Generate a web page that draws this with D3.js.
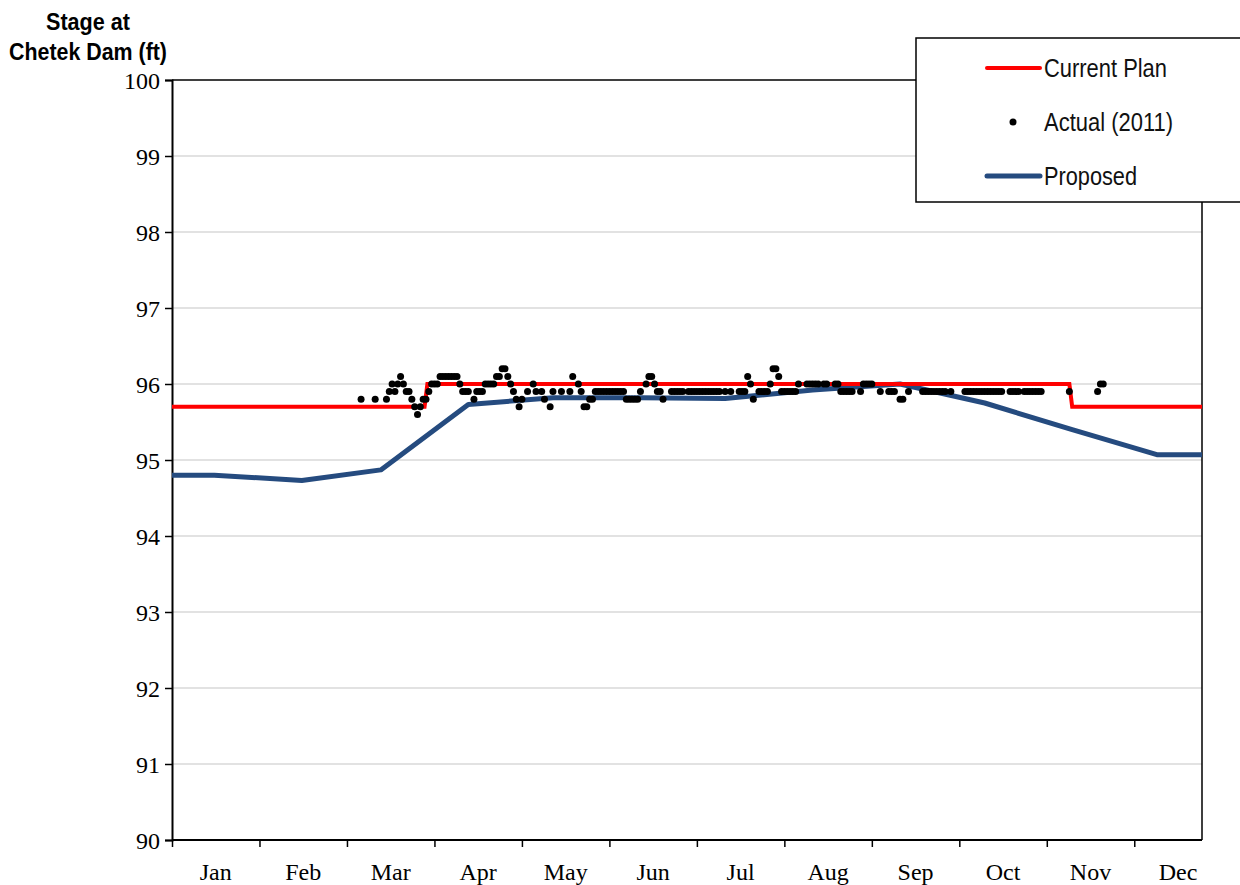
<!DOCTYPE html>
<html>
<head>
<meta charset="utf-8">
<script src="https://cdn.jsdelivr.net/npm/d3@7"></script>
<style>
  body { margin:0; background:#fff; }
  .narrow { font-family:"Liberation Sans Narrow","Arial Narrow","Liberation Sans",Arial,sans-serif; }
  .serif { font-family:"Liberation Serif","Times New Roman",serif; }
</style>
</head>
<body>
<div id="graphique"></div>
<script>
// stage at Chetek Dam, day of year on x
const months=["Jan","Feb","Mar","Apr","May","Jun","Jul","Aug","Sep","Oct","Nov","Dec"];
const yTicks=[90,91,92,93,94,95,96,97,98,99,100];

const planDay=[0,89.5,90.5,318,319,365];
const planStage=[95.7,95.7,96.0,96.0,95.7,95.7];

const proposedDay=[0,15,46,74,105,135,166,196,227,258,288,319,349,365];
const proposedStage=[94.8,94.8,94.73,94.87,95.73,95.82,95.82,95.81,95.92,96.0,95.75,95.4,95.07,95.07];

const actualDay=[67,72,76,77,78,79,80,81,82,83,84,85,86,87,88,89,90,91,92,93,94,
  95,96,97,98,99,100,101,102,103,104,105,107,108,109,110,111,112,113,114,115,116,117,118,119,120,
  121,122,123,124,126,128,129,131,132,134,135,138,141,142,144,145,146,147,148,149,
  150,151,152,153,154,155,156,157,158,159,160,161,162,163,164,165,166,168,169,170,171,172,173,174,
  177,178,179,180,181,183,184,185,186,187,188,189,190,191,192,193,194,196,198,201,202,203,204,205,206,
  208,209,210,211,212,213,214,215,216,217,218,219,220,221,222,225,226,227,228,229,231,232,235,236,
  237,238,239,240,241,244,245,246,247,248,251,254,255,256,258,259,261,
  266,267,268,269,270,271,272,273,274,276,281,282,283,284,285,286,287,288,289,290,291,292,293,294,
  297,298,299,300,302,303,304,305,306,307,308,318,328,329,330];
const actualStage=[95.8,95.8,95.8,95.9,96.0,95.9,96.0,96.1,96.0,95.9,95.9,95.8,95.7,95.6,95.7,95.8,95.8,95.9,96.0,96.0,96.0,
  96.1,96.1,96.1,96.1,96.1,96.1,96.1,96.0,95.9,95.9,95.9,95.8,95.9,95.9,95.9,96.0,96.0,96.0,96.0,96.1,96.1,96.2,96.2,96.1,96.0,
  95.9,95.8,95.7,95.8,95.9,96.0,95.9,95.9,95.8,95.7,95.9,95.9,95.9,96.1,96.0,95.9,95.7,95.7,95.8,95.8,
  95.9,95.9,95.9,95.9,95.9,95.9,95.9,95.9,95.9,95.9,95.9,95.8,95.8,95.8,95.8,95.8,95.9,96.0,96.1,96.1,96.0,95.9,95.9,95.8,
  95.9,95.9,95.9,95.9,95.9,95.9,95.9,95.9,95.9,95.9,95.9,95.9,95.9,95.9,95.9,95.9,95.9,95.9,95.9,95.9,95.9,95.9,96.1,96.0,95.8,
  95.9,95.9,95.9,95.9,96.0,96.2,96.2,96.1,95.9,95.9,95.9,95.9,95.9,95.9,96.0,96.0,96.0,96.0,96.0,96.0,96.0,96.0,96.0,96.0,
  95.9,95.9,95.9,95.9,95.9,95.9,96.0,96.0,96.0,96.0,95.9,95.9,95.9,95.9,95.8,95.8,95.9,
  95.9,95.9,95.9,95.9,95.9,95.9,95.9,95.9,95.9,95.9,95.9,95.9,95.9,95.9,95.9,95.9,95.9,95.9,95.9,95.9,95.9,95.9,95.9,95.9,
  95.9,95.9,95.9,95.9,95.9,95.9,95.9,95.9,95.9,95.9,95.9,95.9,95.9,96.0,96.0];

const width=1240, height=885;
const mLeft=172, mRight=1202, mTop=80, mBottom=840;

const svg=d3.select("#graphique").append("svg")
    .attr("width",width).attr("height",height);

const x=d3.scaleLinear().domain([0,365]).range([mLeft,mRight]);
const y=d3.scaleLinear().domain([90,100]).range([mBottom,mTop]);

// gridlines
svg.append("g").selectAll("line")
    .data(yTicks.slice(1,-1))
    .enter().append("line")
    .attr("x1",mLeft).attr("x2",mRight)
    .attr("y1",d=>y(d)).attr("y2",d=>y(d))
    .attr("stroke","#d9d9d9").attr("stroke-width",1.5);

// plot border (top & right)
svg.append("path")
    .attr("d","M"+mLeft+","+mTop+"H"+mRight+"V"+mBottom)
    .attr("fill","none").attr("stroke","black").attr("stroke-width",1.5);

// axes
const y_axis=d3.axisLeft(y).tickValues(yTicks).tickSize(7).tickPadding(5).tickFormat(d3.format("d"));
const gy=svg.append("g").attr("transform","translate("+mLeft+",0)").call(y_axis);
gy.select(".domain").attr("stroke-width",2);
gy.selectAll(".tick line").attr("stroke-width",1.5);
gy.selectAll("text").attr("class","serif").attr("font-size",24).attr("fill","black").attr("dy","0.35em");

const x_axis=d3.axisBottom(x).tickValues(d3.range(12).map(i=>i*31)).tickSize(7).tickFormat("");
const gx=svg.append("g").attr("transform","translate(0,"+mBottom+")").call(x_axis);
gx.select(".domain").attr("stroke-width",2).attr("d","M"+mLeft+",0H"+mRight);
gx.selectAll(".tick line").attr("stroke-width",1.5);

svg.append("g").selectAll("text")
    .data(months)
    .enter().append("text")
    .attr("class","serif")
    .attr("x",(d,i)=>x(i*31+15.5)).attr("y",880)
    .attr("text-anchor","middle").attr("font-size",24)
    .text(d=>d);

// series
const line=d3.line().x(d=>x(d[0])).y(d=>y(d[1]));
svg.append("path")
    .datum(proposedDay.map((d,i)=>[d,proposedStage[i]]))
    .attr("d",line).attr("fill","none")
    .attr("stroke","#254b7f").attr("stroke-width",5).attr("stroke-linejoin","round");
svg.append("path")
    .datum(planDay.map((d,i)=>[d,planStage[i]]))
    .attr("d",line).attr("fill","none")
    .attr("stroke","#ff0000").attr("stroke-width",4);
svg.append("g").selectAll("circle")
    .data(actualDay.map((d,i)=>[d,actualStage[i]]))
    .enter().append("circle")
    .attr("cx",d=>x(d[0])).attr("cy",d=>y(d[1]))
    .attr("r",3.5).attr("fill","black");

// y title (condensed to mimic a narrow face)
const titleLines=[{t:"Stage at",w:84},{t:"Chetek Dam (ft)",w:158}];
svg.append("g").selectAll("text").data(titleLines).enter().append("text")
    .attr("class","narrow")
    .attr("x",88).attr("y",(d,i)=>30+i*30)
    .attr("text-anchor","middle")
    .attr("font-size",23).attr("font-weight","bold")
    .attr("textLength",d=>d.w).attr("lengthAdjust","spacingAndGlyphs")
    .text(d=>d.t);

// legend
const leg=svg.append("g").attr("transform","translate(916,38)");
leg.append("rect").attr("width",340).attr("height",164)
    .attr("fill","white").attr("stroke","black").attr("stroke-width",1.5);
const items=[{name:"Current Plan",type:"line",color:"#ff0000",w:123},
             {name:"Actual (2011)",type:"dot",color:"black",w:129},
             {name:"Proposed",type:"line",color:"#254b7f",w:93}];
const li=leg.selectAll("g.item").data(items).enter().append("g")
    .attr("transform",(d,i)=>"translate(0,"+(30+i*54)+")");
li.filter(d=>d.type=="line").append("line")
    .attr("x1",71).attr("x2",124).attr("y1",0).attr("y2",0)
    .attr("stroke",d=>d.color).attr("stroke-width",d=>d.color=="#ff0000"?4:5)
    .attr("stroke-linecap","round");
li.filter(d=>d.type=="dot").append("circle")
    .attr("cx",97).attr("cy",0).attr("r",3.5).attr("fill","black");
li.append("text").attr("class","narrow")
    .attr("x",128).attr("y",0).attr("dy","0.35em")
    .attr("font-size",25).attr("fill","#111")
    .attr("textLength",d=>d.w).attr("lengthAdjust","spacingAndGlyphs")
    .text(d=>d.name);
</script>
</body>
</html>
